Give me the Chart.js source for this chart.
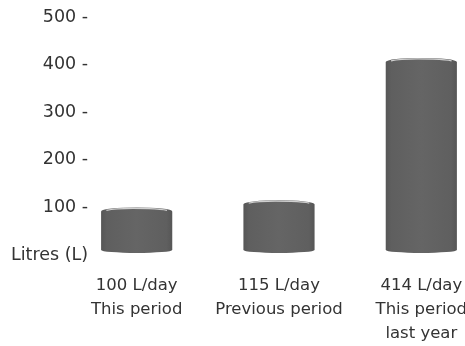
<!DOCTYPE html>
<html>
<head>
<meta charset="utf-8">
<script src="https://cdn.jsdelivr.net/npm/chart.js@4/dist/chart.umd.min.js"></script>
<style>
  html, body { margin: 0; padding: 0; background: #ffffff; overflow: hidden; }
  #wrap { width: 465px; height: 346px; position: relative; }
</style>
</head>
<body>
<div id="wrap"><canvas id="usage"></canvas></div>
<script>
// Daily water use, litres per day
const periods = [['This period'], ['Previous period'], ['This period', 'last year']];
const usage = [100, 115, 414];
const unitLabel = 'Litres (L)';
const yMax = 500;
const yStep = 100;

const textColor = '#333333';
const fontFamily = 'DejaVu Sans';
const fontSize = 16.5;
const axisFontSize = 17.5;
const lineHeightPx = 24;
const labelGap = 19;

// Shading that turns each flat bar into a grey cylinder
const cylinder = {
  id: 'cylinder',
  afterDatasetsDraw(chart) {
    const ctx = chart.ctx;
    chart.getDatasetMeta(0).data.forEach(bar => {
      const { x, y, base, width } = bar.getProps(['x', 'y', 'base', 'width'], true);
      const rx = width / 2, ry = 4, rb = 3;
      const l = x - rx, r = x + rx;
      const top = y + ry;          // lid centre, so the lid's far edge sits on the value
      const bottom = base - 2 - rb;
      ctx.save();
      ctx.clearRect(l - 1, y - 1, width + 2, base - y + 2);
      const g = ctx.createLinearGradient(l, 0, r, 0);
      g.addColorStop(0, '#565656');
      g.addColorStop(0.08, '#5f5f5f');
      g.addColorStop(0.5, '#656565');
      g.addColorStop(0.92, '#5f5f5f');
      g.addColorStop(1, '#565656');
      ctx.beginPath();
      ctx.moveTo(l, top);
      ctx.lineTo(l, bottom);
      ctx.ellipse(x, bottom, rx, rb, 0, Math.PI, 0, true);
      ctx.lineTo(r, top);
      ctx.ellipse(x, top, rx, ry, 0, 0, Math.PI, true);
      ctx.closePath();
      ctx.fillStyle = g;
      ctx.fill();
      // light rim on the far edge of the lid
      ctx.beginPath();
      ctx.ellipse(x, top, rx - 3, ry - 1, 0, Math.PI * 1.12, Math.PI * 1.88);
      ctx.strokeStyle = '#cfcfcf';
      ctx.lineWidth = 1.3;
      ctx.stroke();
      ctx.restore();
    });
  }
};

new Chart(document.getElementById('usage'), {
  type: 'bar',
  data: {
    datasets: [{
      data: usage.map((v, i) => ({ x: i, y: v })),
      backgroundColor: '#626262',
      borderWidth: 0,
      categoryPercentage: 1,
      barPercentage: 0.5
    }]
  },
  options: {
    responsive: true,
    maintainAspectRatio: false,
    animation: false,
    layout: { padding: { top: 17, left: 8, right: 0, bottom: 0 } },
    plugins: { legend: { display: false }, tooltip: { enabled: false } },
    scales: {
      x: {
        type: 'linear',
        bounds: 'data',
        offset: false,
        min: -0.32,
        max: 2.307,
        afterBuildTicks(scale) {
          scale.ticks = usage.map((_, i) => ({ value: i }));
        },
        afterFit(scale) {
          // labels may run to the canvas edge; keep the plot wide
          scale.paddingLeft = 0;
          scale.paddingRight = 0;
          const lines = Math.max(...periods.map(p => p.length)) + 1;
          scale.height = lines * lineHeightPx + labelGap;
        },
        grid: { display: false, drawTicks: false, offset: false },
        border: { display: false },
        ticks: {
          autoSkip: false,
          maxRotation: 0,
          padding: labelGap,
          color: textColor,
          font: { family: fontFamily, size: fontSize, lineHeight: lineHeightPx + 'px' },
          callback: v => [usage[v] + ' L/day', ...periods[v]]
        }
      },
      y: {
        min: 0,
        max: yMax,
        grid: { display: false, drawTicks: false },
        border: { display: false },
        ticks: {
          stepSize: yStep,
          padding: 3,
          color: textColor,
          font: { family: fontFamily, size: axisFontSize },
          callback: v => v === 0 ? unitLabel : v + ' -'
        }
      }
    }
  },
  plugins: [cylinder]
});
</script>
</body>
</html>
